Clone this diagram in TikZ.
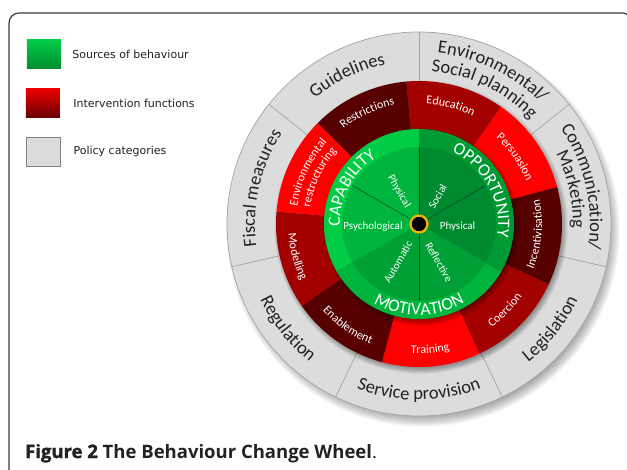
\documentclass[tikz,border=0pt]{standalone}
\usepackage{fontspec}
\setmainfont{Carlito}
\newfontfamily\keyfont{DejaVu Sans}
\newfontfamily\capfont{Open Sans}
\usetikzlibrary{positioning,decorations.text}
\definecolor{frameline}{HTML}{3A3A3A}
\definecolor{ink}{HTML}{222222}
\definecolor{policy}{HTML}{DCDCDC}
\definecolor{policyedge}{HTML}{A3A3A3}
\definecolor{redhi}{HTML}{FF0000}
\definecolor{redmid}{HTML}{A30000}
\definecolor{redlo}{HTML}{560000}
\definecolor{capout}{HTML}{00CD45}
\definecolor{capin}{HTML}{00B53E}
\definecolor{oppout}{HTML}{009A35}
\definecolor{oppin}{HTML}{008A2F}
\definecolor{motout}{HTML}{00B53D}
\definecolor{motin}{HTML}{00A036}
\definecolor{hubring}{HTML}{E8B400}
\definecolor{spokeline}{HTML}{14401F}
\tikzset{
  boxline/.style={draw=frameline, line width=1.2pt},
  swatch/.style={minimum width=34pt, minimum height=29pt, inner sep=0pt},
  keylab/.style={text=ink, font=\keyfont\fontsize{11}{13}\selectfont, inner sep=0pt},
  sep/.style={draw=policyedge, line width=0.7pt},
  spoke/.style={draw=spokeline, line width=0.5pt},
  hub/.style={circle, fill=black, draw=hubring, line width=2.4pt, minimum size=17pt, inner sep=0pt},
  srclab/.style={text=white, font=\fontsize{11}{13}\selectfont, inner sep=0pt},
  figcap/.style={text=ink, font=\capfont\fontsize{18.5}{22}\selectfont, inner sep=0pt},
}
\newcommand{\greenfont}{\color{white}\fontsize{17.5}{18}\selectfont}
\newcommand{\redfont}{\color{white}\fontsize{12}{13}\selectfont}
\newcommand{\policyfont}{\color{ink}\fontsize{18.5}{19}\selectfont}
\newcommand{\ringtext}[5]{%
  \path[decorate, decoration={text along path, text align=center, text={|#4|#5}}]
    (#1:#3) arc[start angle=#1, end angle=#2, radius=#3];}

\begin{document}
\begin{tikzpicture}[x=1pt,y=1pt]
  \useasboundingbox (-419,-245) rectangle (208,224);
  \clip (-419,-245) rectangle (208,224);

  % frame
  \draw[boxline] (-410,-250) -- (-410,201) arc[start angle=180,end angle=90,radius=10]
    -- (204,211) arc[start angle=90,end angle=0,radius=6] -- (210,-250);

  % legend
  \node[swatch, top color=capout, bottom color=oppin] (keysrc) at (-375,169.5) {};
  \node[swatch, top color=redhi!93!black, bottom color=redlo!75!redmid] (keyint) at (-376,121) {};
  \node[swatch, fill=policy, draw=policyedge!80!black, line width=0.8pt] (keypol) at (-376,72.5) {};
  \node[keylab, right=11pt of keysrc] (labsrc) {Sources of behaviour};
  \node[keylab, right=13pt of keyint] (labint) {Intervention functions};
  \node[keylab, right=13pt of keypol] (labpol) {Policy categories};

  % shadow of the wheel
  \foreach \k in {0,...,9}
    \fill[black, opacity=0.05] (4,-6) circle ({183+\k*1.5});

  % policy categories
  \fill[policy] (0,0) circle (192);
  \draw[sep] (0,0) circle (192);
  \foreach \k in {0,...,6}
    \draw[sep] ({90-\k*360/7}:143) -- ({90-\k*360/7}:192);

  % intervention functions
  \foreach \k in {0,...,5}
    \fill[black, opacity=0.08] (2,-3) circle ({140+\k*1.3});
  \foreach \k/\c in {0/redmid,1/redhi,2/redlo,3/redmid,4/redhi,5/redlo,6/redmid,7/redhi,8/redlo}
    \fill[\c] (0,0) -- ({95-40*\k}:143) arc[start angle={95-40*\k}, end angle={55-40*\k}, radius=143] -- cycle;

  % sources of behaviour
  \foreach \k in {0,...,5}
    \fill[black, opacity=0.08] (2,-3) circle ({92+\k*1.3});
  \foreach \a/\cout/\cin in {90/capout/capin, 210/motout/motin, 330/oppout/oppin} {
    \fill[\cout] (0,0) -- (\a:95) arc[start angle=\a, end angle=\a+120, radius=95] -- cycle;
    \fill[\cin] (0,0) -- (\a:77) arc[start angle=\a, end angle=\a+120, radius=77] -- cycle;
  }
  \foreach \a in {30,90,150,270}
    \draw[spoke] (0,0) -- (\a:77);
  \node[hub] (hub) at (0,0) {};

  \node[srclab, rotate=-60] (capphys) at (-20,32.5) {Physical};
  \node[srclab] (cappsy) at (-46,-3) {Psychological};
  \node[srclab, rotate=60] (oppsoc) at (18.5,27.5) {Social};
  \node[srclab] (oppphys) at (38.5,-3) {Physical};
  \node[srclab, rotate=60] (motauto) at (-21,-38) {Automatic};
  \node[srclab, rotate=-60] (motrefl) at (20,-38) {Reflective};

  \ringtext{212}{92}{79}{\greenfont}{CAPABILITY}
  \ringtext{88}{-32}{79}{\greenfont}{OPPORTUNITY}
  \ringtext{210}{330}{91}{\greenfont}{MOTIVATION}

  \ringtext{135}{95}{121.5}{\redfont}{Restrictions}
  \ringtext{175}{135}{123}{\redfont}{Environmental}
  \ringtext{175}{135}{110}{\redfont}{restructuring}
  \ringtext{95}{55}{120.5}{\redfont}{Education}
  \ringtext{55}{15}{115.5}{\redfont}{Persuasion}
  \ringtext{-25}{15}{123}{\redfont}{Incentivisation}
  \ringtext{-65}{-25}{126}{\redfont}{Coercion}
  \ringtext{-105}{-65}{129.5}{\redfont}{Training}
  \ringtext{-145}{-105}{129.5}{\redfont}{Enablement}
  \ringtext{-185}{-145}{131}{\redfont}{Modelling}

  \ringtext{141.43}{90}{163}{\policyfont}{Guidelines}
  \ringtext{90}{38.57}{172}{\policyfont}{Environmental/}
  \ringtext{90}{38.57}{153}{\policyfont}{Social planning}
  \ringtext{38.57}{-12.86}{171}{\policyfont}{Communication/}
  \ringtext{38.57}{-12.86}{154}{\policyfont}{Marketing}
  \ringtext{-64.29}{-12.86}{176}{\policyfont}{Legislation}
  \ringtext{-115.71}{-64.29}{176}{\policyfont}{Service provision}
  \ringtext{-167.14}{-115.71}{176}{\policyfont}{Regulation}
  \ringtext{192.86}{141.43}{164}{\policyfont}{Fiscal measures}

  \node[figcap, anchor=base west] (fig) at (-394,-234)
    {{\bfseries\addfontfeature{FakeBold=1.5}Figure 2} {\bfseries The Behaviour Change Wheel}.};
\end{tikzpicture}
\end{document}
